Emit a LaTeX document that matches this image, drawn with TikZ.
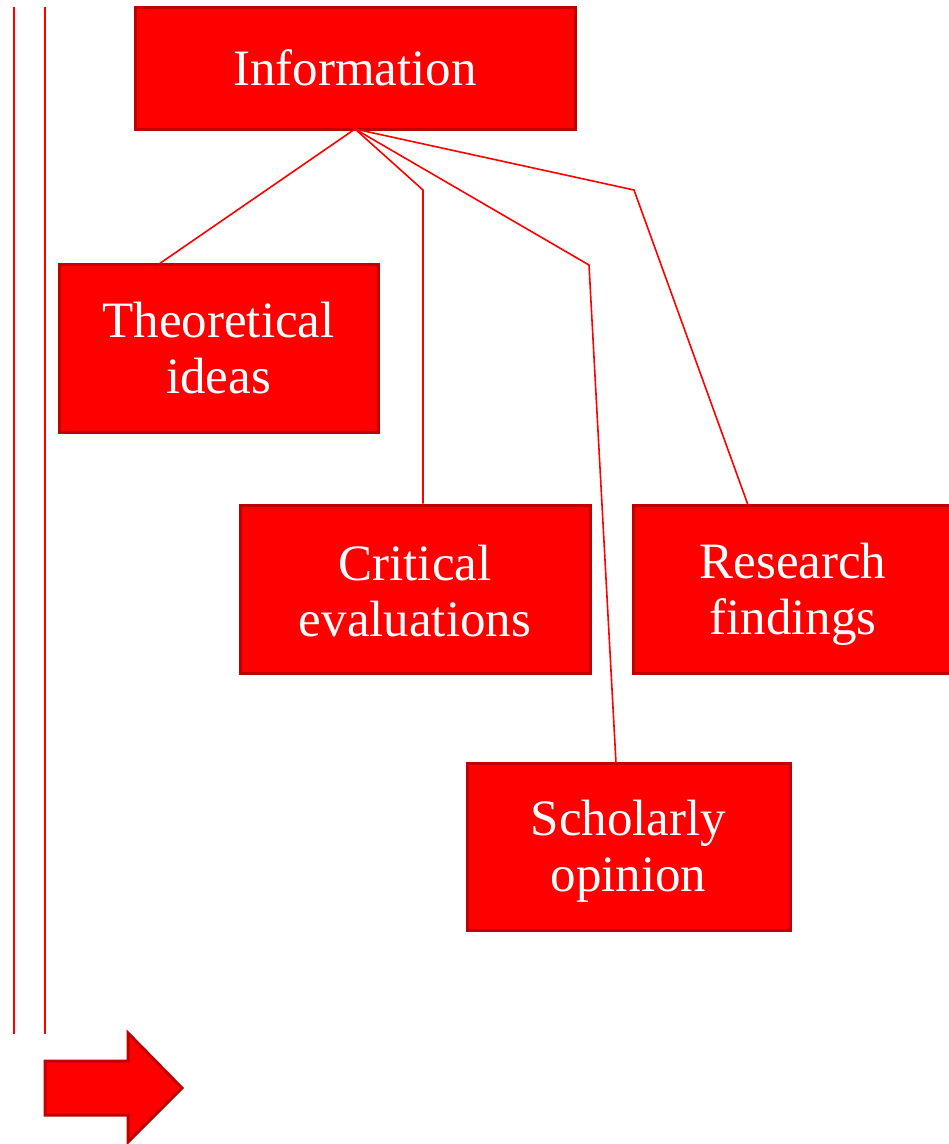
\documentclass[tikz,border=0pt]{standalone}
\usepackage{fontspec}
\setmainfont{Liberation Serif}
\definecolor{boxred}{HTML}{FF0000}
\definecolor{edgered}{HTML}{C00000}
\begin{document}
\begin{tikzpicture}[x=1pt,y=-1pt,
  box/.style={draw=edgered, line width=3pt, fill=boxred, inner sep=0pt},
  boxtext/.style={text=white, align=center, font=\fontsize{51}{56}\selectfont, inner sep=0pt},
  link/.style={draw=boxred, line width=1.6pt}]
\useasboundingbox (0,0) rectangle (949,1144);
\begin{scope}
\clip (0,0) rectangle (949,1144);
\node[box, boxtext, minimum width=440pt, minimum height=122pt] (info) at (355,68) {Information};
\node[box, minimum width=319pt, minimum height=168pt,
  label={[boxtext]center:{Theoretical\\ideas}}] (theo) at (218.5,348) {};
\node[box, minimum width=350pt, minimum height=168pt,
  label={[boxtext, yshift=-2pt]center:{Critical\\evaluations}}] (crit) at (415,589) {};
\node[box, minimum width=320pt, minimum height=168pt,
  label={[boxtext, yshift=-5pt]center:{Research\\findings}}] (res) at (793,589) {};
\node[box, minimum width=323pt, minimum height=167pt,
  label={[boxtext, yshift=-5pt]center:{Scholarly\\opinion}}] (schol) at (628.5,846.5) {};
\end{scope}
\coordinate (top) at (355,129);
\coordinate (b1) at (423,190);
\coordinate (b2) at (589,265);
\coordinate (b3) at (634,190);
\draw[link] (top) -- (159,264);
\draw[link] (top) -- (b1) -- (b1 |- crit.north);
\draw[link] (top) -- (b2) -- (616,763);
\draw[link] (top) -- (b3) -- (748,505);
\draw[draw=boxred, line width=1.2pt] (14,7) -- (14,1034);
\draw[draw=boxred, line width=1.6pt] (45,7) -- (45,1034);
\draw[draw=edgered, line width=3pt, fill=boxred, line join=miter]
  (45,1061) -- (128,1061) -- (128,1033) -- (182,1088) -- (128,1142) -- (128,1115) -- (45,1115) -- cycle;
\end{tikzpicture}
\end{document}
